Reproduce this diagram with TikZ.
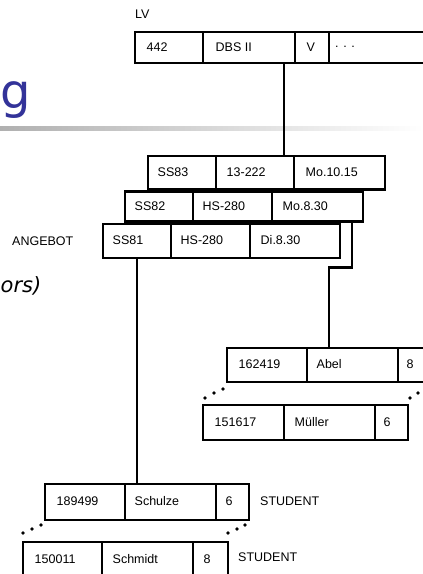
\documentclass[tikz,border=0pt]{standalone}
\usepackage{fontspec}
\setmainfont{Liberation Sans}
\newfontfamily\titlefont{DejaVu Sans}
\definecolor{titleblue}{HTML}{333399}
\newcommand\mycell[7]{%
  \node[cellbox, minimum width=#4pt, minimum height=#5pt, anchor=north west] (#1) at (#2,#3) {};
  \node[celltext, anchor=west] (#1t) at ([xshift=#6pt, yshift=0.8pt]#1.west) {#7};}
\begin{document}
\begin{tikzpicture}[x=1pt,y=-1pt,
  cellbox/.style={draw, line width=2.8pt, rectangle, inner sep=0pt, outer sep=0pt},
  celltext/.style={font=\fontsize{12.5}{14}\selectfont, inner sep=0pt},
  plainlabel/.style={font=\fontsize{12.5}{14}\selectfont, inner sep=0pt},
  conn/.style={line width=2.8pt},
  dot/.style={fill=black}]
\useasboundingbox (0,0) rectangle (423,574);
\clip (0,0) rectangle (423,574);
% slide remnants
\node[font=\titlefont\fontsize{48}{56}\selectfont, text=titleblue, inner sep=0pt, anchor=base west] (titleg) at (0,108) {g};
\shade[left color=gray!62, right color=white] (0,126) rectangle (423,130);
\node[font=\titlefont\itshape\fontsize{21}{25}\selectfont, inner sep=0pt, anchor=base west] (orst) at (0.5,292) {ors)};
% LV
\node[plainlabel, anchor=west] (lvlabel) at (135,14) {LV};
\mycell{lv1}{135}{32}{68}{31}{11.5}{442}
\mycell{lv2}{203}{32}{92}{31}{12.5}{DBS II}
\mycell{lv3}{295}{32}{34}{31}{11.5}{V}
\mycell{lv4}{329}{32}{110}{31}{6}{. . .}
% ANGEBOT
\node[plainlabel, anchor=west] (angebot) at (12,241) {ANGEBOT};
\mycell{a3a}{148}{156}{68}{33.5}{9.5}{SS83}
\mycell{a3b}{216}{156}{78}{33.5}{10.5}{13-222}
\mycell{a3c}{294}{156}{91}{33.5}{11.5}{Mo.10.15}
\mycell{a2a}{125}{191.5}{68}{30}{9.5}{SS82}
\mycell{a2b}{193}{191.5}{79}{30}{9.5}{HS-280}
\mycell{a2c}{272}{191.5}{91}{30}{10.5}{Mo.8.30}
\mycell{a1a}{103}{224}{68}{34}{9.5}{SS81}
\mycell{a1b}{171}{224}{79}{34}{9.5}{HS-280}
\mycell{a1c}{250}{224}{90}{34}{10.5}{Di.8.30}
% STUDENT (Abel / Mueller)
\mycell{s1a}{227}{348}{80}{34}{11.5}{162419}
\mycell{s1b}{307}{348}{91}{34}{9.5}{Abel}
\mycell{s1c}{398}{348}{40}{34}{8.5}{8}
\mycell{s2a}{203}{405}{81}{35}{11.5}{151617}
\mycell{s2b}{284}{405}{91}{35}{10.5}{Müller}
\mycell{s2c}{375}{405}{33}{35}{8.5}{6}
% STUDENT (Schulze / Schmidt)
\mycell{t1a}{45}{484}{80}{36}{11.5}{189499}
\mycell{t1b}{125}{484}{91}{36}{9.5}{Schulze}
\mycell{t1c}{216}{484}{33}{36}{9.5}{6}
\node[plainlabel, anchor=west] (stud1) at (260,501) {STUDENT};
\mycell{t2a}{23}{542}{79}{36}{11.5}{150011}
\mycell{t2b}{102}{542}{91}{36}{10.5}{Schmidt}
\mycell{t2c}{193}{542}{35}{36}{10.5}{8}
\node[plainlabel, anchor=west] (stud2) at (238,557) {STUDENT};
% connectors
\draw[conn] ([xshift=-11pt]lv2.south east) -- ([xshift=-11pt]lv2.south east |- a3b.north);
\draw[conn] (a1a.south) -- (a1a.south |- t1a.north);
\draw[conn] ([xshift=-11pt]a2c.south east) -- ++(0,46) -| ([xshift=22pt]s1b.north west);
% dots
\foreach \p in {(205,398),(214,393),(223,389),(410,398),(418,393),(427,389),
                (23,533),(32,529),(41,525),(228,533),(237,529),(245,525)}
  \fill[dot] \p circle (1.8pt);
\end{tikzpicture}
\end{document}
